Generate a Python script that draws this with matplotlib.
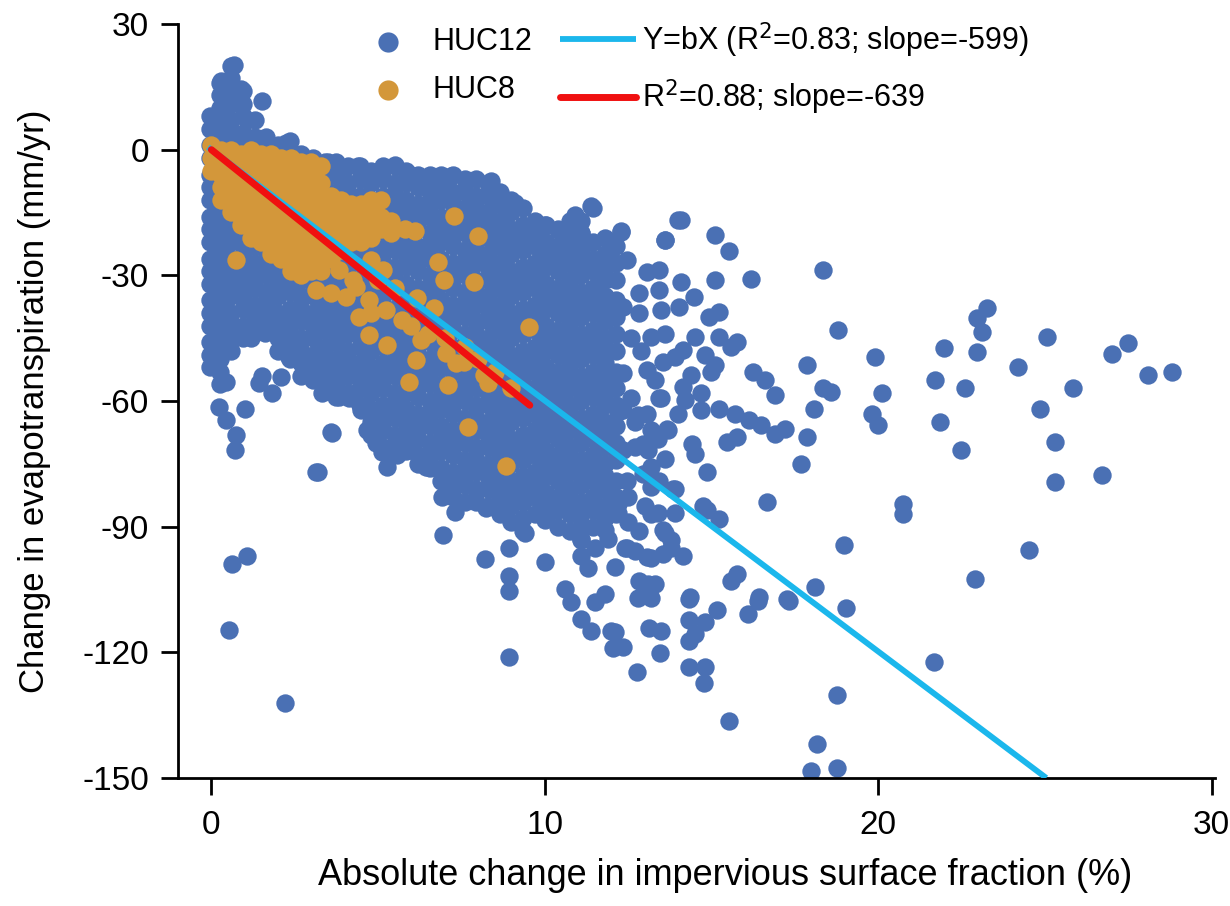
import matplotlib.pyplot as plt
import numpy as np

plt.rcParams['font.family'] = ['Liberation Sans', 'DejaVu Sans']

# ---- HUC12: dense core, read column by column (x = % change, y = mm/yr)
core_x = [-0.05, 0.25, 0.6, 0.95, 1.3, 1.65, 2.0, 2.35, 2.7, 3.05, 3.4, 3.75,
          4.1, 4.45, 4.8, 5.15, 5.5, 5.85, 6.2, 6.55, 6.9, 7.25, 7.6, 7.95,
          8.3, 8.65, 9.0, 9.35, 9.7, 10.05, 10.4, 10.75, 11.1, 11.45, 11.8, 12.15]
core_y = [
    [8, 5, 1, -2, -6, -9, -12, -16, -19, -22, -26, -29, -32, -36, -39, -42, -46, -49, -52],
    [16, 13, 10, 6, 3, 0, -4, -7, -10, -14, -17, -20, -24, -27, -30, -34, -37, -40, -44, -47, -50, -53, -56],
    [20, 17, 14, 11, 7, 4, 1, -3, -6, -9, -12, -16, -19, -22, -26, -29, -32, -35, -39, -42, -45, -48],
    [14, 11, 8, 4, 1, -2, -6, -9, -12, -15, -19, -22, -25, -29, -32, -35, -38, -42, -45],
    [7, 3, 0, -3, -7, -10, -13, -17, -20, -23, -27, -30, -33, -37, -40, -43],
    [3, 0, -4, -7, -10, -14, -17, -20, -24, -27, -30, -34, -37, -40],
    [1, -2, -5, -9, -12, -15, -19, -22, -25, -29, -32, -35, -39, -42, -45, -48],
    [2, -1, -4, -8, -11, -14, -18, -21, -24, -28, -31, -34, -38, -41, -44, -47, -50],
    [-1, -5, -8, -11, -15, -18, -21, -25, -28, -31, -35, -38, -41, -45, -48, -51, -54],
    [-2, -5, -9, -12, -15, -19, -22, -25, -29, -32, -35, -39, -42, -45, -49, -52, -55],
    [-3, -7, -10, -13, -17, -20, -23, -27, -30, -33, -37, -40, -43, -47, -50, -53, -57],
    [-3, -6, -10, -13, -16, -20, -23, -26, -30, -33, -36, -40, -43, -46, -50, -53, -56, -59],
    [-4, -8, -11, -14, -18, -21, -24, -28, -31, -34, -38, -41, -44, -48, -51, -54, -58],
    [-4, -7, -11, -14, -17, -21, -24, -27, -31, -34, -37, -41, -44, -47, -51, -54, -57, -61],
    [-5, -8, -12, -15, -18, -22, -25, -28, -32, -35, -38, -42, -45, -48, -52, -55, -58, -62, -65, -68],
    [-4, -7, -11, -14, -17, -21, -24, -27, -31, -34, -37, -41, -44, -47, -51, -54, -57, -61, -64, -67, -71],
    [-4, -8, -11, -14, -18, -21, -24, -28, -31, -34, -38, -41, -44, -48, -51, -54, -58, -61, -64, -68, -71],
    [-5, -8, -12, -15, -18, -22, -25, -28, -32, -35, -38, -42, -45, -48, -52, -55, -58, -62, -65, -68, -72],
    [-6, -9, -13, -16, -19, -23, -26, -29, -33, -36, -39, -43, -46, -49, -53, -56, -59, -63, -66, -69, -73],
    [-6, -10, -13, -16, -20, -23, -26, -30, -33, -36, -40, -43, -46, -50, -53, -56, -60, -63, -66, -70, -73, -76],
    [-6, -9, -12, -16, -19, -22, -26, -29, -32, -36, -39, -42, -46, -49, -52, -56, -59, -62, -66, -69, -72, -76, -79],
    [-6, -10, -13, -17, -20, -23, -27, -30, -33, -37, -40, -43, -47, -50, -53, -57, -60, -63, -67, -70, -73, -77, -80, -83],
    [-7, -10, -14, -17, -20, -24, -27, -30, -34, -37, -40, -44, -47, -50, -54, -57, -60, -64, -67, -70, -74, -77, -80, -84],
    [-7, -11, -14, -17, -21, -24, -27, -31, -34, -37, -41, -44, -47, -51, -54, -57, -61, -64, -67, -71, -74, -77, -81, -84],
    [-8, -11, -15, -18, -21, -25, -28, -31, -35, -38, -41, -45, -48, -51, -55, -58, -61, -65, -68, -71, -75, -78, -81, -85],
    [-10, -13, -17, -20, -23, -27, -30, -33, -37, -40, -43, -47, -50, -53, -57, -60, -63, -67, -70, -73, -77, -80, -83, -87],
    [-12, -15, -19, -22, -25, -29, -32, -35, -39, -42, -45, -49, -52, -55, -59, -62, -65, -69, -72, -75, -79, -82, -85, -89],
    [-14, -18, -21, -24, -28, -31, -34, -38, -41, -44, -48, -51, -54, -58, -61, -64, -68, -71, -74, -78, -81, -84, -88, -91],
    [-17, -20, -23, -27, -30, -33, -37, -40, -43, -47, -50, -53, -57, -60, -63, -67, -70, -73, -77, -80, -83, -87],
    [-18, -22, -25, -28, -32, -35, -38, -42, -45, -48, -52, -55, -58, -62, -65, -68, -72, -75, -78, -82, -85, -88],
    [-19, -23, -26, -29, -33, -36, -39, -43, -46, -49, -53, -56, -59, -63, -66, -69, -73, -76, -79, -83, -86, -90],
    [-17, -21, -24, -27, -31, -34, -37, -41, -44, -47, -51, -54, -57, -61, -64, -67, -71, -74, -77, -81, -84, -87, -91],
    [-17, -20, -24, -27, -30, -34, -37, -40, -44, -47, -50, -54, -57, -60, -64, -67, -70, -74, -77, -80, -84, -87, -90, -93],
    [-14, -22, -26, -29, -33, -36, -39, -43, -46, -49, -53, -56, -59, -63, -66, -69, -73, -76, -79, -83, -86, -90],
    [-21, -25, -28, -31, -35, -38, -41, -45, -48, -51, -55, -58, -61, -65, -68, -71, -75, -78, -81, -85, -88],
    [-23, -27, -31, -36, -40, -44, -48, -53, -57, -61, -66, -70, -74, -79, -83, -87],
]

# ---- HUC12: scattered points around the core and outliers
huc12_extra = [
    (0.69, 20.3), (0.3, 16.3), (0.9, 14.4), (1.53, 11.5), (1.08, 7.2), (1.44, 2.4), (2.25, 1.7),
    (2.7, -1.7), (3.5, -2.9), (4.4, -4.0), (5.5, -3.6), (6.0, -6.0), (6.6, -6.4), (7.2, -6.2),
    (8.4, -7.4), (6.5, -6.7), (9.1, -12.7), (10.0, -18.0), (10.9, -15.5), (11.4, -13.4),
    (10.4, -19.1), (11.1, -19.9), (12.3, -19.6), (13.6, -21.5), (14.0, -16.7), (9.4, -22.0),
    (0.24, -50), (0.45, -55.5), (0.24, -61.5), (0.45, -64.6), (0.75, -68.2), (0.72, -71.8),
    (1.02, -62), (0.33, -37.5), (1.2, -45), (1.6, -43.8), (1.53, -54), (1.44, -55.7),
    (1.83, -58), (2.1, -54.3), (2.34, -49.5), (2.8, -53.4), (3.33, -58), (3.84, -59),
    (4.14, -59.3), (3.63, -67.7), (3.15, -77), (4.5, -62.2), (4.68, -67), (4.95, -70),
    (5.13, -72.2), (5.28, -75.8), (5.58, -73), (6.2, -75), (6.45, -75.8), (6.0, -71.8),
    (6.93, -83), (7.3, -86.6), (8.25, -85.6), (9.4, -91.4), (10.0, -88.5), (11.1, -93.3),
    (11.8, -90.9), (12.2, -86.8), (12.5, -89), (12.4, -95), (12.7, -95.7), (13.2, -97.4),
    (0.63, -99), (1.08, -97), (0.54, -114.6), (2.2, -132), (3.2, -77), (3.6, -67.5),
    (6.96, -92), (8.2, -97.6), (8.94, -121), (8.94, -101.7), (8.94, -105.3), (8.94, -95),
    (10.0, -98.5), (10.6, -104.8), (10.8, -108), (11.1, -112), (11.4, -115), (11.3, -99.8),
    (11.5, -108), (11.8, -106), (12.0, -115), (12.05, -119), (11.1, -97), (11.5, -95),
    (11.9, -93), (12.8, -107), (13.1, -103.6), (13.2, -107), (13.5, -115),
    (12.29, -19.5), (14.09, -16.8), (13.61, -21.5), (15.11, -20.3), (15.53, -24.3),
    (16.17, -30.9), (15.11, -31.1), (14.09, -31.5), (14.49, -35.1), (13.43, -28.7),
    (13.07, -29.1), (12.47, -26.3), (12.83, -34.3), (12.35, -37.5), (12.83, -39.1),
    (13.43, -33.5), (13.49, -38.3), (14.03, -37.5), (13.19, -44.7), (13.61, -43.9),
    (14.93, -39.9), (15.23, -38.7), (15.77, -45.9), (15.59, -47.1), (15.23, -44.7),
    (14.51, -44.7), (14.15, -47.8), (13.91, -49.4), (13.55, -50.6), (13.07, -52.6),
    (12.35, -53.4), (14.81, -49), (15.11, -51.4), (14.99, -53), (14.39, -53.8),
    (14.15, -56.6), (14.21, -59.8), (14.69, -58.2), (14.69, -62.2), (13.43, -59.4),
    (12.59, -59.4), (13.07, -63), (12.35, -62.2), (13.67, -66.6), (13.19, -67),
    (12.95, -70.2), (12.71, -71), (12.35, -71.8), (12.0, -70.2), (13.61, -73.8),
    (14.41, -70.2), (14.51, -72.6), (14.85, -77), (13.85, -81), (13.43, -79),
    (12.95, -77.4), (12.47, -79), (15.23, -61.8), (15.71, -63), (16.13, -64.6),
    (16.49, -65.8), (16.91, -67.8), (17.21, -66.6), (15.47, -69.8), (15.75, -68.6),
    (16.23, -53), (16.61, -55), (16.89, -58.6), (17.87, -51.4), (18.35, -57),
    (18.59, -57.8), (18.08, -62), (17.87, -68.7), (17.69, -75), (16.65, -84.1),
    (15.23, -88.1), (14.75, -85), (14.87, -86.1), (14.15, -96.9), (15.77, -101.3),
    (15.59, -102.9), (14.37, -106.9), (16.41, -106.9), (17.27, -107.3), (13.19, -87),
    (12.83, -91), (12.47, -95), (13.07, -97.3), (13.55, -96.5), (12.11, -99.7),
    (13.31, -103.7), (12.83, -102.9), (13.79, -93.3), (13.55, -90.9),
    (12.6, -45), (12.9, -48), (13.3, -55), (12.7, -65), (13.4, -69), (14.0, -63),
    (12.5, -83), (13.0, -85), (13.9, -86.8), (12.2, -84.5), (13.2, -80.6), (13.4, -86.8),
    (13.9, -80.9), (13.2, -75.8), (13.1, -71.8), (13.7, -67), (12.8, -63.4), (12.2, -62.7),
    (13.5, -59.3), (13.6, -91.4), (13.8, -95.2),
    (12.11, -115.2), (12.35, -118.8), (13.13, -114.2), (13.46, -120.2), (12.77, -124.8),
    (14.33, -107.2), (14.33, -112.4), (14.81, -112.8), (14.51, -115.6), (14.33, -117.2),
    (14.33, -123.6), (14.81, -123.6), (14.77, -127.4), (15.17, -109.9), (15.53, -136.5),
    (16.09, -110.8), (16.4, -107.8), (17.33, -107.8), (18.1, -104.4), (18.97, -94.3),
    (19.04, -109.5), (18.77, -130.1), (18.17, -141.9), (17.99, -148.3), (18.77, -147.5),
    (21.67, -122.2), (22.9, -102.6), (24.52, -95.5), (25.3, -69.8), (25.3, -79.3),
    (26.7, -77.7), (24.86, -61.8), (25.84, -57), (20.74, -84.5), (20.74, -86.9),
    (22.48, -71.6), (21.86, -65),
    (18.35, -28.7), (23.27, -37.8), (22.97, -40.2), (23.1, -43.5), (22.97, -48.3),
    (21.98, -47.4), (25.07, -44.7), (27.5, -46.2), (27.0, -48.8), (28.1, -53.8),
    (28.8, -53.1), (24.2, -52), (21.7, -55), (22.6, -57), (19.9, -49.5), (20.1, -58.2),
    (19.8, -63), (20.0, -65.8), (18.8, -43),
]

# ---- HUC8: wedge near the origin, column by column
huc8_core_x = [0.0, 0.3, 0.6, 0.9, 1.2, 1.5, 1.8, 2.1, 2.4, 2.7, 3.0, 3.3, 3.6,
               3.9, 4.2, 4.5, 4.8, 5.1, 5.4, 5.8, 6.1]
huc8_core_y = [
    [1, -2, -5],
    [0, -3, -6, -9, -12],
    [0, -3, -6, -9, -12, -15],
    [-1, -4, -7, -10, -13, -16, -18],
    [0, -3, -6, -9, -12, -15, -18, -21],
    [-1, -4, -7, -10, -13, -16, -19, -22],
    [-1, -4, -7, -10, -13, -16, -19, -22, -25],
    [-2, -5, -8, -11, -14, -17, -20, -23, -26],
    [-2, -5, -8, -11, -14, -17, -20, -23, -26, -29],
    [-3, -6, -9, -12, -15, -18, -21, -24, -27, -30],
    [-3, -6, -9, -12, -15, -18, -21, -24, -27, -29],
    [-4, -8, -11, -14, -17, -20, -23, -26, -29],
    [-11, -14, -17, -20, -23, -26],
    [-12, -15, -18, -21, -24],
    [-13, -16, -19, -22],
    [-13, -16, -19, -22],
    [-12, -15, -18, -21],
    [-12, -16, -19],
    [-17, -20],
    [-19],
    [-19.5],
]

huc8_extra = [
    (0.74, -26.3), (7.29, -15.9), (7.99, -20.7), (6.79, -26.7), (6.99, -31.1), (7.89, -31.5),
    (9.54, -42.3), (4.79, -26.3), (5.14, -28.7), (3.84, -28.7), (4.24, -31.1), (3.15, -33.5),
    (3.6, -34.2), (4.04, -35.1), (4.35, -32.8), (4.74, -35.9), (4.8, -39), (5.25, -38.3),
    (5.73, -40.7), (4.44, -39.9), (6.18, -35.5), (6.68, -37.9), (4.74, -44.3), (5.28, -46.6),
    (6.14, -50.2), (5.94, -55.4), (7.04, -48.6), (7.34, -51), (7.59, -50.6), (7.09, -56.2),
    (8.19, -53.8), (8.29, -55.8), (7.69, -66.2), (8.84, -75.4), (6.0, -42), (6.5, -44),
    (7.0, -45), (7.6, -47), (8.0, -50), (8.5, -53), (9.0, -57), (5.5, -33), (5.0, -31),
    (6.3, -45.5),
]

# regression slopes (mm/yr per unit fraction) and line extents (%)
slope_huc12 = -599
slope_huc8 = -639
fit_x_huc12 = [-0.1, 25.04]
fit_x_huc8 = [0.0, 9.55]

c_blue = '#4A70B4'
c_orange = '#D3973A'
c_line = '#1BB7EC'
c_red = '#F01010'

h12_x = [x for x, ys in zip(core_x, core_y) for _ in ys] + [p[0] for p in huc12_extra]
h12_y = [y for ys in core_y for y in ys] + [p[1] for p in huc12_extra]
h8_x = [x for x, ys in zip(huc8_core_x, huc8_core_y) for _ in ys] + [p[0] for p in huc8_extra]
h8_y = [y for ys in huc8_core_y for y in ys] + [p[1] for p in huc8_extra]

fig = plt.figure(figsize=(12.3, 9.06), dpi=100)
ax = fig.add_axes([178 / 1230, 128 / 906, 1037 / 1230, 754 / 906])

ax.scatter(h12_x, h12_y, s=175, color=c_blue, linewidths=0, label='HUC12', zorder=2)
ax.scatter(h8_x, h8_y, s=175, color=c_orange, linewidths=0, label='HUC8', zorder=3)

fx = np.array(fit_x_huc12)
ax.plot(fx, fx * slope_huc12 / 100, color=c_line, lw=4.2, solid_capstyle='butt',
        label='Y=bX (R$^2$=0.83; slope=-599)', zorder=4)
fx8 = np.array(fit_x_huc8)
ax.plot(fx8, fx8 * slope_huc8 / 100, color=c_red, lw=5, solid_capstyle='round',
        label='R$^2$=0.88; slope=-639', zorder=5)

ax.set_xlim(-1.0, 30.1)
ax.set_ylim(-150, 30)
ax.set_xticks([0, 10, 20, 30])
ax.set_yticks([30, 0, -30, -60, -90, -120, -150])
ax.set_yticklabels(['30', '0', '-30', '-60', '-90', '-120', '-150'])

for s in ['top', 'right']:
    ax.spines[s].set_visible(False)
for s in ['left', 'bottom']:
    ax.spines[s].set_linewidth(2)
ax.tick_params(axis='both', length=12, width=2, labelsize=24)
ax.tick_params(axis='x', pad=11)
ax.tick_params(axis='y', pad=9)

ax.set_xlabel('Absolute change in impervious surface fraction (%)', fontsize=26)
ax.set_ylabel('Change in evapotranspiration (mm/yr)', fontsize=25)
# label positions in axes fraction
ax.xaxis.set_label_coords((725 - 178) / 1037, -0.106)
ax.yaxis.set_label_coords(-0.122, 0.5)

ax.legend(loc='upper left', bbox_to_anchor=(350 / 1230, 1 - 20 / 906), bbox_transform=fig.transFigure,
          ncol=2, frameon=False, fontsize=22, handlelength=2.5, handletextpad=0.2,
          columnspacing=0.9, labelspacing=0.6, borderpad=0, borderaxespad=0,
          markerscale=1.1)

fig.savefig('out.png', dpi=100)
